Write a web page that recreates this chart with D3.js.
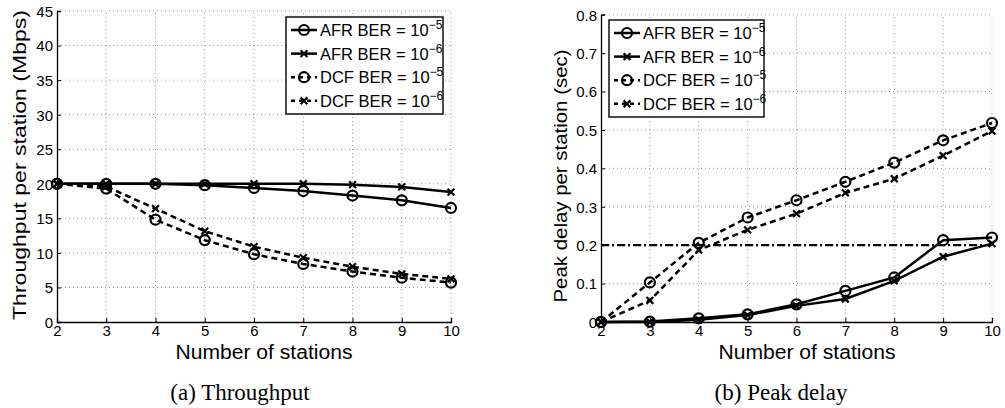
<!DOCTYPE html>
<html><head><meta charset="utf-8">
<script src="https://cdn.jsdelivr.net/npm/d3@7"></script>
<style>body{margin:0;background:#fff}svg{display:block}</style>
</head><body>
<svg id="c" width="1005" height="408"></svg>
<script>
const stations = [2,3,4,5,6,7,8,9,10];
const thrAFR5 = [20,20,20,19.8,19.4,18.95,18.3,17.6,16.5];
const thrAFR6 = [20,20,20,20,20,20,19.87,19.55,18.8];
const thrDCF5 = [20,19.3,14.8,11.85,9.8,8.4,7.3,6.4,5.7];
const thrDCF6 = [20,19.6,16.4,13.15,10.9,9.3,8.0,6.95,6.25];
const dlyAFR5 = [0,0.001,0.0095,0.02,0.046,0.081,0.116,0.213,0.220];
const dlyAFR6 = [0,0,0.006,0.018,0.042,0.06,0.107,0.17,0.204];
const dlyDCF5 = [0,0.103,0.206,0.272,0.317,0.365,0.415,0.473,0.518];
const dlyDCF6 = [0,0.056,0.187,0.24,0.282,0.336,0.373,0.433,0.497];
const delayLimit = 0.2;
const thrTicks = [0,5,10,15,20,25,30,35,40,45];
const dlyTicks = [0,0.1,0.2,0.3,0.4,0.5,0.6,0.7,0.8];
const legendNames = ["AFR BER = 10","AFR BER = 10","DCF BER = 10","DCF BER = 10"];
const legendExp = ["\u22125","\u22126","\u22125","\u22126"];

const svg = d3.select("#c");
const FONT = "'Liberation Sans', Arial, Helvetica, sans-serif";

function panel(o){
  const g = svg.append("g");
  const x = d3.scaleLinear().domain([2,10]).range([o.x0,o.x1]);
  const y = d3.scaleLinear().domain(o.ydom).range([o.y0,o.y1]);
  // grid
  g.append("g").selectAll("line").data(stations.slice(1)).join("line")
    .attr("x1",d=>x(d)).attr("x2",d=>x(d)).attr("y1",o.y0).attr("y2",o.y1)
    .attr("stroke","#999").attr("stroke-width",1).attr("stroke-dasharray","1,3");
  g.append("g").selectAll("line").data(o.ticks.slice(1)).join("line")
    .attr("x1",o.x0).attr("x2",o.x1).attr("y1",d=>y(d)).attr("y2",d=>y(d))
    .attr("stroke","#999").attr("stroke-width",1).attr("stroke-dasharray","1,3");
  // axes
  const xa = g.append("g").attr("transform",`translate(0,${o.y0})`)
    .call(d3.axisBottom(x).tickValues(stations).tickSize(-4).tickPadding(5).tickFormat(d3.format("d")));
  const ya = g.append("g").attr("transform",`translate(${o.x0},0)`)
    .call(d3.axisLeft(y).tickValues(o.ticks).tickSize(-4).tickPadding(4).tickFormat(o.fmt));
  [xa,ya].forEach(a=>{
    a.select(".domain").attr("stroke","#000").attr("stroke-width",1.3);
    a.selectAll(".tick line").attr("stroke","#000");
    a.selectAll("text").attr("font-family",FONT).attr("font-size",15).attr("fill","#000");
  });
  xa.selectAll("text").attr("dy","0.6em");
  ya.selectAll("text").attr("dy","0.36em");
  // threshold
  if(o.limit!==undefined){
    g.append("line").attr("x1",o.x0).attr("x2",o.x1).attr("y1",y(o.limit)).attr("y2",y(o.limit))
      .attr("stroke","#000").attr("stroke-width",2.2).attr("stroke-dasharray","8,3,2,3");
  }
  const styles = [
    {dash:null, m:"o"},{dash:null, m:"x"},{dash:"6,4", m:"o"},{dash:"6,4", m:"x"}
  ];
  const line = d3.line().x((d,i)=>x(stations[i])).y(d=>y(d));
  o.series.forEach((s,k)=>{
    const st = styles[k];
    g.append("path").datum(s).attr("d",line).attr("fill","none").attr("stroke","#000")
      .attr("stroke-width",2.5).attr("stroke-dasharray",st.dash);
    drawMarkers(g, s.map((v,i)=>[x(stations[i]),y(v)]), st.m);
  });
  // labels
  svg.append("text").attr("x",o.xlabX).attr("y",359).attr("text-anchor","middle")
    .attr("font-family",FONT).attr("font-size",19.5)
    .attr("textLength",177).attr("lengthAdjust","spacingAndGlyphs").text("Number of stations");
  svg.append("text").attr("transform",`translate(${o.ylabX},${o.ylabY}) rotate(-90)`)
    .attr("text-anchor","middle").attr("font-family",FONT).attr("font-size",18)
    .attr("textLength",o.ylabLen).attr("lengthAdjust","spacingAndGlyphs").text(o.ylab);
  svg.append("text").attr("x",o.capX).attr("y",400).attr("text-anchor","middle")
    .attr("font-family","'Liberation Serif','DejaVu Serif',serif").attr("font-size",23)
    .text(o.cap);
  // legend
  const L = o.leg;
  const lg = svg.append("g");
  lg.append("rect").attr("x",L.x).attr("y",L.y).attr("width",L.w).attr("height",L.h)
    .attr("fill","#fff").attr("stroke","#000").attr("stroke-width",1.4);
  styles.forEach((st,k)=>{
    const cy = L.y + 13 + k*23.6;
    lg.append("line").attr("x1",L.x+5).attr("x2",L.x+31).attr("y1",cy).attr("y2",cy)
      .attr("stroke","#000").attr("stroke-width",2.5).attr("stroke-dasharray",st.dash?"4,4":null);
    drawMarkers(lg, [[L.x+18,cy]], st.m);
    const t = lg.append("text").attr("x",L.x+34).attr("y",cy+6).attr("font-family",FONT).attr("font-size",16.5);
    t.append("tspan").text(legendNames[k]);
    t.append("tspan").attr("font-size",12).attr("dy",-7).text(legendExp[k]);
  });
}
function drawMarkers(g, pts, m){
  if(m==="o"){
    g.append("g").selectAll("circle").data(pts).join("circle")
      .attr("cx",d=>d[0]).attr("cy",d=>d[1]).attr("r",5)
      .attr("fill","none").attr("stroke","#000").attr("stroke-width",2.2);
  } else {
    g.append("g").selectAll("path").data(pts).join("path")
      .attr("d",d=>`M${d[0]-3.4},${d[1]-3.4}L${d[0]+3.4},${d[1]+3.4}M${d[0]-3.4},${d[1]+3.4}L${d[0]+3.4},${d[1]-3.4}`)
      .attr("stroke","#000").attr("stroke-width",2.2);
  }
}
panel({x0:57,x1:451,y0:322,y1:11,ydom:[0,45],ticks:thrTicks,fmt:d3.format("d"),
  series:[thrAFR5,thrAFR6,thrDCF5,thrDCF6],xlabX:264,ylabX:26,ylabY:165,ylabLen:310,capX:240,
  ylab:"Throughput per station (Mbps)",cap:"(a)  Throughput",
  leg:{x:286,y:17,w:157,h:97}});
panel({x0:601,x1:992,y0:322,y1:14.7,ydom:[0,0.8],ticks:dlyTicks,fmt:d=>d===0?"0":d3.format(".1f")(d),
  series:[dlyAFR5,dlyAFR6,dlyDCF5,dlyDCF6],limit:delayLimit,xlabX:807,ylabX:567,ylabY:176,ylabLen:253,capX:781,
  ylab:"Peak delay per station (sec)",cap:"(b)  Peak delay",
  leg:{x:609,y:20,w:155,h:97}});
</script>
</body></html>
